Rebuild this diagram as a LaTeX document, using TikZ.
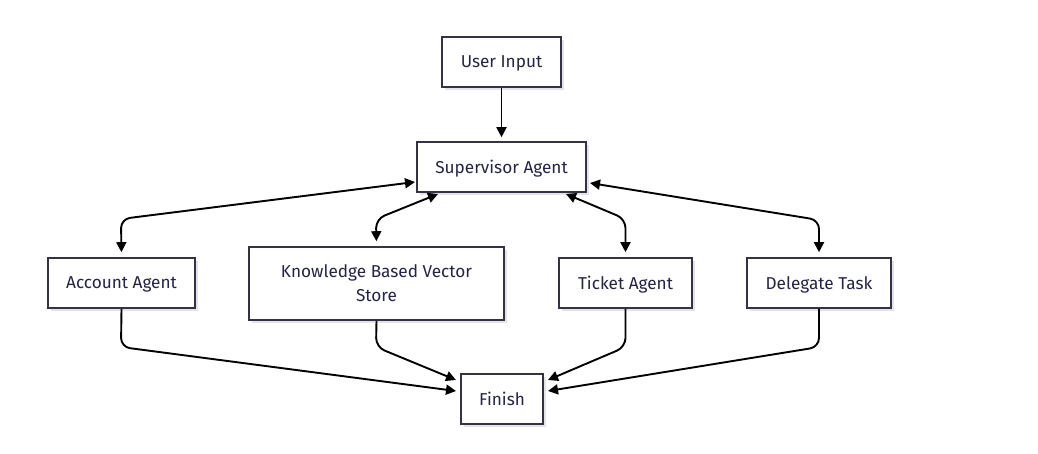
\documentclass[tikz,border=0pt]{standalone}
\usepackage{fontspec}
\setmainfont{Fira Sans}
\usetikzlibrary{arrows.meta,shadows}
\definecolor{boxline}{RGB}{51,51,68}
\definecolor{txt}{RGB}{36,36,68}
\definecolor{shad}{RGB}{228,228,232}
\tikzset{
  box/.style={draw=boxline, line width=1.6pt, fill=white, text=txt,
    font=\fontsize{17.2}{24}\selectfont, align=center, inner sep=0pt,
    text depth=0pt,
    drop shadow={shadow xshift=3pt, shadow yshift=-3pt, fill=shad, opacity=1}},
  link/.style={line width=1.9pt, black, rounded corners=9pt,
    {Triangle[length=10pt,width=10pt]}-{Triangle[length=10pt,width=10pt]}},
  flow/.style={line width=1.9pt, black, rounded corners=9pt,
    -{Triangle[length=10pt,width=10pt]}}
}
\begin{document}
\begin{tikzpicture}[x=1pt,y=-1pt]
\useasboundingbox (0,0) rectangle (1038,454);
\node[box, minimum width=119pt, minimum height=50pt] (user) at (501.5,62) {User Input};
\node[box, minimum width=169pt, minimum height=50pt] (sup) at (501.5,167) {Supervisor Agent};
\node[box, minimum width=147pt, minimum height=50pt] (acc) at (121.5,283) {Account Agent};
\node[box, minimum width=255pt, minimum height=73pt] (kb) at (376.5,283.5) {Knowledge Based Vector\\Store};
\node[box, minimum width=133pt, minimum height=50pt] (tick) at (625.5,283) {Ticket Agent};
\node[box, minimum width=144pt, minimum height=50pt] (del) at (819,283) {Delegate Task};
\node[box, minimum width=82pt, minimum height=50pt] (fin) at (502,399) {Finish};

\coordinate (sl) at (415,182);
\coordinate (sbl) at (438,194);
\coordinate (sbr) at (566,194);
\coordinate (sr) at (590,183);
\coordinate (fl1) at (456,380);
\coordinate (fl2) at (456,391);
\coordinate (fr1) at (548,380);
\coordinate (fr2) at (548,391);

\draw[flow, shorten >=4pt] (user.south) -- (sup.north);
\draw[link, shorten >=5pt] (sl) -- (121,219) -- (acc.north);
\draw[link, shorten >=5pt] (sbl) -- (376,219) -- (kb.north);
\draw[link, shorten >=5pt] (sbr) -- (625.5,219) -- (tick.north);
\draw[link, shorten >=5pt] (sr) -- (819,220) -- (del.north);

\draw[flow] (acc.south) -- (121,347) -- (fl2);
\draw[flow] (kb.south) -- (376,347) -- (fl1);
\draw[flow] (tick.south) -- (625.5,347) -- (fr1);
\draw[flow] (del.south) -- (819,347) -- (fr2);
\end{tikzpicture}
\end{document}
